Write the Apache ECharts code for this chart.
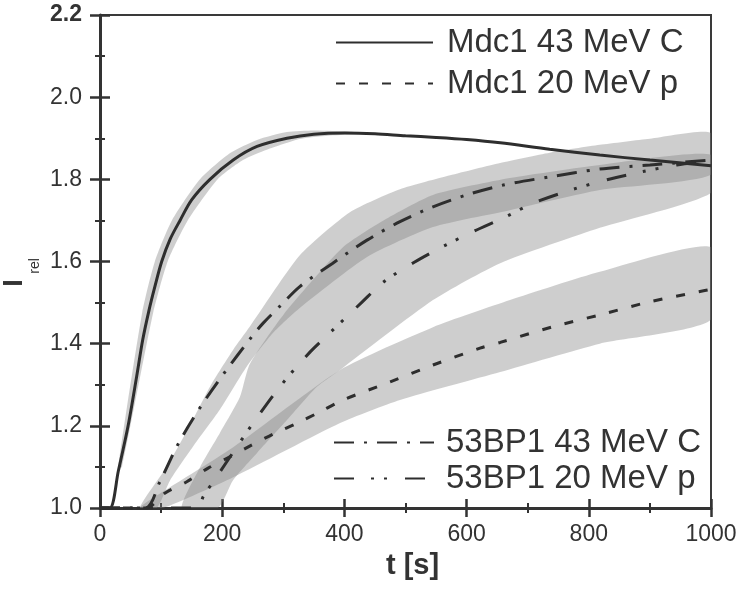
<!DOCTYPE html>
<html>
<head>
<meta charset="utf-8">
<script src="https://cdn.jsdelivr.net/npm/echarts@6/dist/echarts.min.js"></script>
<style>
html,body{margin:0;padding:0;background:#fff;}
#c{width:741px;height:595px;}
</style>
</head>
<body>
<div id="c"></div>
<script>
// ---- data ----
var names = ['Mdc1 43 MeV C', 'Mdc1 20 MeV p', '53BP1 43 MeV C', '53BP1 20 MeV p'];

var tMdc1C = [0, 16, 30, 46, 60, 70, 80, 90, 101, 115, 131, 150, 180, 218, 257, 306, 350, 400, 450, 500, 550, 600, 655, 736, 818, 900, 1000];
var vMdc1C = [1.0, 1.0, 1.09, 1.2, 1.32, 1.41, 1.48, 1.54, 1.6, 1.655, 1.7, 1.75, 1.8, 1.847, 1.88, 1.9, 1.91, 1.913, 1.911, 1.906, 1.902, 1.897, 1.889, 1.873, 1.859, 1.847, 1.833];

var tMdc1p = [0, 75, 106, 142, 177, 213, 248, 286, 322, 360, 398, 475, 545, 622, 655, 741, 818, 900, 982, 1000];
var vMdc1p = [1.0, 1.0, 1.036, 1.064, 1.097, 1.125, 1.153, 1.182, 1.206, 1.234, 1.263, 1.307, 1.348, 1.389, 1.403, 1.441, 1.47, 1.502, 1.527, 1.532];

var t53C = [0, 74, 98, 128, 164, 205, 248, 267, 295, 327, 381, 437, 491, 545, 600, 660, 736, 818, 900, 1000];
var v53C = [1.0, 1.0, 1.064, 1.156, 1.245, 1.332, 1.416, 1.45, 1.492, 1.539, 1.596, 1.652, 1.697, 1.733, 1.762, 1.786, 1.806, 1.825, 1.835, 1.847];

var t53p = [0, 160, 169, 191, 224, 256, 297, 344, 376, 428, 464, 513, 562, 611, 663, 709, 775, 835, 889, 944, 1000];
var v53p = [1.0, 1.0, 1.028, 1.076, 1.149, 1.218, 1.3, 1.38, 1.426, 1.5, 1.55, 1.597, 1.637, 1.673, 1.708, 1.742, 1.776, 1.801, 1.819, 1.835, 1.845];

// uncertainty bands: [t, I_rel] along upper and lower edges
var bandMdc1C_up = [[30, 1.1], [69, 1.475], [90, 1.601], [118, 1.701], [164, 1.801], [213, 1.864], [257, 1.896], [306, 1.915], [350, 1.919], [409, 1.916], [440, 1.913]];
var bandMdc1C_lo = [[36, 1.1], [87, 1.475], [111, 1.601], [144, 1.701], [193, 1.801], [234, 1.847], [273, 1.872], [327, 1.898], [381, 1.907], [440, 1.913]];

var band53C_up = [[65, 1.0], [109, 1.1], [147, 1.2], [180, 1.295], [218, 1.385], [245, 1.441], [327, 1.615], [409, 1.72], [491, 1.776], [573, 1.81], [655, 1.84], [736, 1.865], [818, 1.884], [900, 1.899], [1000, 1.913]];
var band53C_lo = [[93, 1.0], [115, 1.068], [152, 1.149], [196, 1.239], [240, 1.344], [283, 1.426], [327, 1.487], [437, 1.611], [545, 1.684], [671, 1.725], [818, 1.774], [1000, 1.811]];

var band53p_up = [[134, 1.0], [164, 1.1], [196, 1.182], [229, 1.27], [245, 1.35], [300, 1.47], [398, 1.635], [464, 1.7], [545, 1.762], [671, 1.803], [818, 1.835], [1000, 1.86]];
var band53p_lo = [[193, 1.0], [218, 1.068], [257, 1.134], [306, 1.214], [355, 1.295], [393, 1.336], [545, 1.506], [655, 1.596], [818, 1.682], [1000, 1.767]];

var bandMdc1p_up = [[65, 1.0], [82, 1.02], [218, 1.148], [393, 1.336], [545, 1.44], [671, 1.506], [818, 1.575], [1000, 1.635]];
var bandMdc1p_lo = [[103, 1.0], [218, 1.075], [393, 1.207], [491, 1.263], [655, 1.331], [818, 1.4], [1000, 1.458]];

var xTicks = [0, 200, 400, 600, 800, 1000];
var yTicks = [1.0, 1.2, 1.4, 1.6, 1.8, 2.0, 2.2];

// ---- build ----
var FONT = '"Liberation Sans", Arial, sans-serif';
var INK = '#2e2e2e';
var BAND = 'rgba(128,128,128,0.39)';

function zip(t, v) { return t.map(function (x, i) { return [x, v[i]]; }); }

function bandSeries(upper, lower) {
  return {
    type: 'custom', coordinateSystem: 'cartesian2d', xAxisIndex: 0, yAxisIndex: 0,
    silent: true, z: 1,
    data: [upper[0]],
    renderItem: function (params, api) {
      var pts = upper.map(function (p) { return api.coord(p); })
        .concat(lower.slice().reverse().map(function (p) { return api.coord(p); }));
      var cs = params.coordSys;
      return {
        type: 'polygon',
        shape: { points: pts, smooth: 0.2 },
        style: { fill: BAND },
        clipPath: { type: 'rect', shape: { x: cs.x, y: cs.y, width: cs.width, height: cs.height } }
      };
    }
  };
}

function lineSeries(name, t, v, dash) {
  return {
    name: name, type: 'line', xAxisIndex: 0, yAxisIndex: 0,
    data: zip(t, v), symbol: 'none', smooth: 0.3,
    z: 5,
    lineStyle: { color: INK, width: 3, type: dash },
    itemStyle: { color: INK }
  };
}

var xMin = xTicks[0], xMax = xTicks[xTicks.length - 1], xInt = xTicks[1] - xTicks[0];
var yMin = yTicks[0], yMax = yTicks[yTicks.length - 1], yInt = 0.2;

var tickStyle = { color: '#333', width: 2.5 };
var minorStyle = { color: '#333', width: 2 };

var option = {
  animation: false,
  backgroundColor: '#fff',
  textStyle: { fontFamily: FONT },
  grid: { left: 100, top: 15, width: 611, height: 493, show: true, borderColor: '#3a3a3a', borderWidth: 2, containLabel: false, outerBoundsMode: 'none' },
  legend: [
    {
      data: [names[0], names[1]], orient: 'vertical', left: 335, top: 26, padding: 0,
      itemWidth: 97, itemHeight: 3, itemGap: 8,
      itemStyle: { opacity: 0 },
      textStyle: { fontSize: 33, color: '#333', fontFamily: FONT, lineHeight: 32, padding: [0, 0, 0, 9] },
      selectedMode: false
    },
    {
      data: [names[2], names[3]], orient: 'vertical', left: 333, top: 426, padding: 0,
      itemWidth: 100, itemHeight: 3, itemGap: 3,
      itemStyle: { opacity: 0 },
      textStyle: { fontSize: 33, color: '#333', fontFamily: FONT, lineHeight: 32, padding: [0, 0, 0, 7] },
      selectedMode: false
    }
  ],
  graphic: [
    { type: 'text', x: 15, y: 283, rotation: Math.PI / 2, z: 10,
      style: { text: 'I', font: 'bold 27px ' + FONT, fill: '#333', align: 'center', verticalAlign: 'middle' } },
    { type: 'text', x: 35, y: 266, rotation: Math.PI / 2, z: 10,
      style: { text: 'rel', font: '14px ' + FONT, fill: '#333', align: 'center', verticalAlign: 'middle' } }
  ],
  xAxis: [
    {
      type: 'value', min: xMin, max: xMax, interval: xInt, position: 'bottom',
      axisLine: { show: true, lineStyle: { color: '#333', width: 3 } },
      axisTick: { show: true, length: 9, lineStyle: tickStyle },
      minorTick: { show: true, splitNumber: 2, length: 5, lineStyle: minorStyle },
      splitLine: { show: false }, minorSplitLine: { show: false },
      axisLabel: { fontSize: 23, color: '#333', margin: 15, fontFamily: FONT, formatter: function (v) { return String(v); } },
      name: 't [s]', nameLocation: 'middle', nameGap: 43, nameMoveOverlap: false,
      nameTextStyle: { fontSize: 29, fontWeight: 'bold', color: '#333', fontFamily: FONT, padding: [0, 0, 0, 14] }
    },
    {
      type: 'value', min: xMin, max: xMax, interval: xInt, position: 'bottom',
      axisLine: { show: false },
      axisTick: { show: true, inside: true, length: 9, lineStyle: tickStyle },
      minorTick: { show: true, splitNumber: 2, length: 5, lineStyle: minorStyle },
      splitLine: { show: false }, axisLabel: { show: false }
    }
  ],
  yAxis: [
    {
      type: 'value', min: yMin, max: yMax, interval: yInt, position: 'left',
      axisLine: { show: true, lineStyle: { color: '#333', width: 3 } },
      axisTick: { show: true, length: 10, lineStyle: tickStyle },
      minorTick: { show: true, splitNumber: 2, length: 5, lineStyle: minorStyle },
      splitLine: { show: false }, minorSplitLine: { show: false },
      axisLabel: {
        fontSize: 23, color: '#333', margin: 18, fontFamily: FONT,
        formatter: function (v) {
          var s = v.toFixed(1);
          return Math.abs(v - yMax) < 1e-6 ? '{b|' + s + '}' : s;
        },
        rich: { b: { fontSize: 23, fontWeight: 'bold', color: '#333', fontFamily: FONT } }
      }
    },
    {
      type: 'value', min: yMin, max: yMax, interval: yInt, position: 'left',
      axisLine: { show: false },
      axisTick: { show: true, inside: true, length: 10, lineStyle: tickStyle },
      minorTick: { show: true, splitNumber: 2, length: 5, lineStyle: minorStyle },
      splitLine: { show: false }, axisLabel: { show: false }
    }
  ],
  series: [
    bandSeries(bandMdc1C_up, bandMdc1C_lo),
    bandSeries(band53C_up, band53C_lo),
    bandSeries(band53p_up, band53p_lo),
    bandSeries(bandMdc1p_up, bandMdc1p_lo),
    lineSeries(names[0], tMdc1C, vMdc1C, 'solid'),
    lineSeries(names[1], tMdc1p, vMdc1p, [9, 14]),
    lineSeries(names[2], t53C, v53C, [20, 10, 3, 10]),
    lineSeries(names[3], t53p, v53p, [20, 17, 3, 10, 3, 18])
  ]
};

var chart = echarts.init(document.getElementById('c'), null, { renderer: 'canvas' });
chart.setOption(option);
</script>
</body>
</html>
